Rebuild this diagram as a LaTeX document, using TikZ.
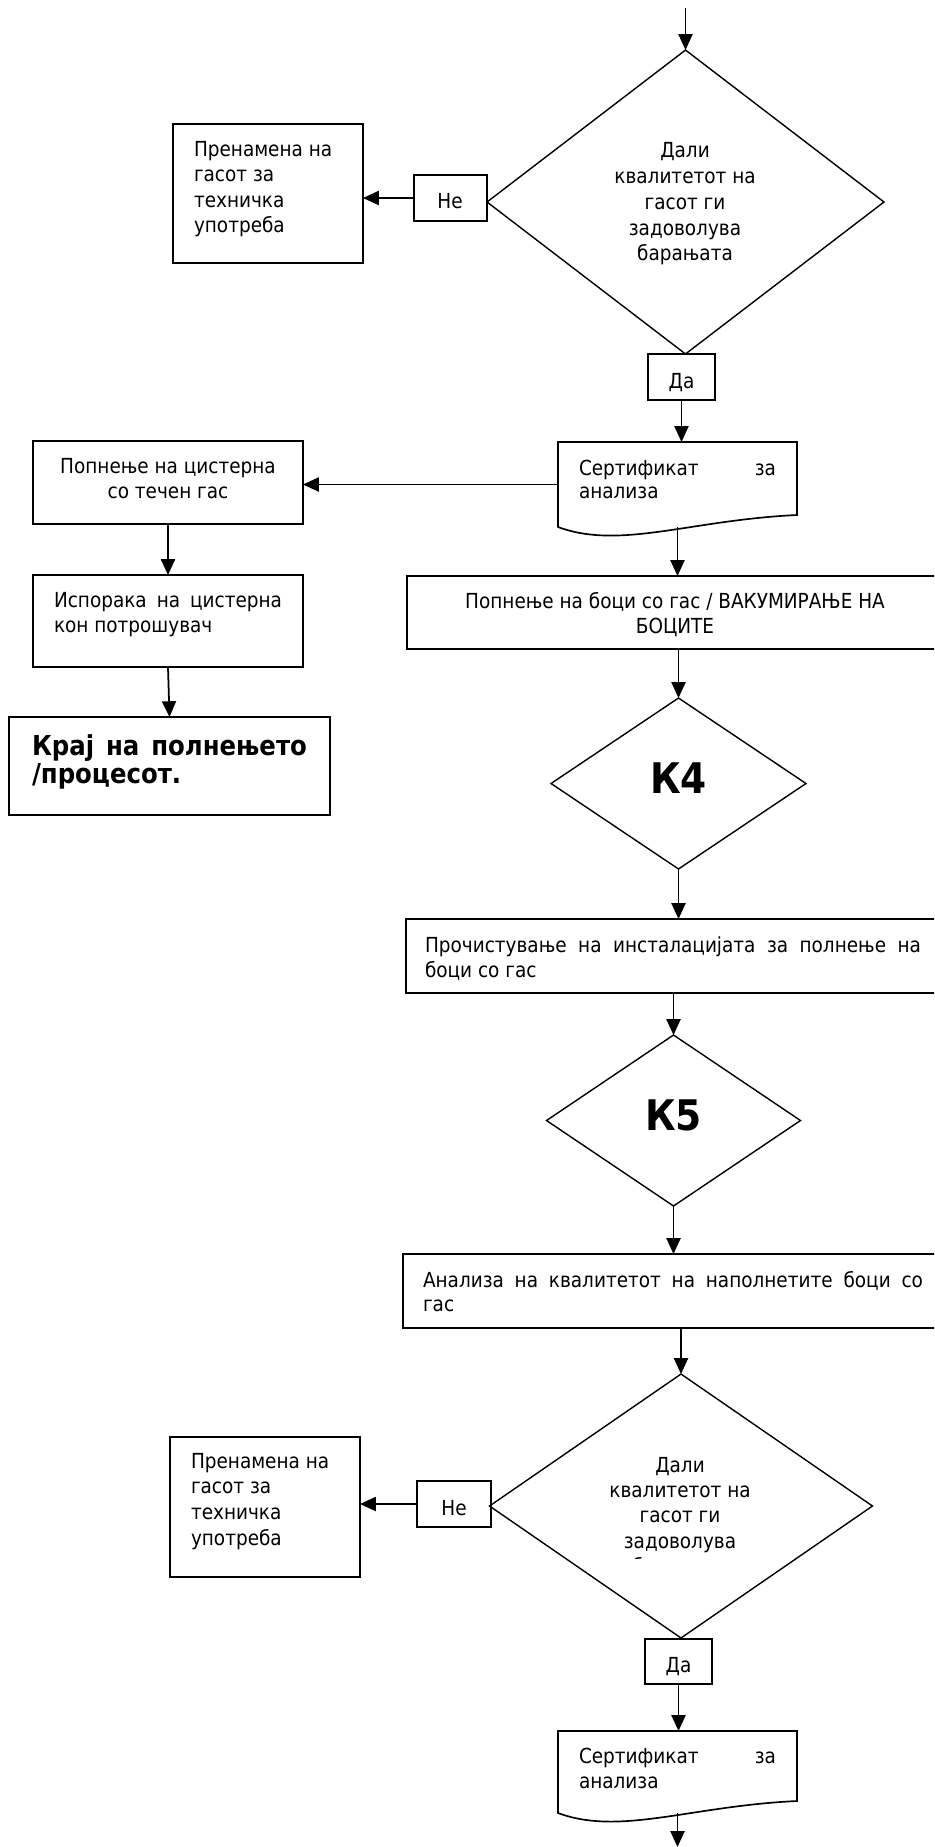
\documentclass[tikz,border=0pt]{standalone}
\usepackage{fontspec}
\setmainfont{DejaVu Sans}[FakeStretch=0.89]
\usetikzlibrary{arrows.meta,shapes.geometric,fit}
\tikzset{
 box/.style={draw, line width=1.15pt, inner sep=0, outer sep=0},
 dia/.style={draw, diamond, line width=0.8pt, inner sep=0, outer sep=0},
 docshape/.style={draw, line width=0.95pt},
 holder/.style={inner sep=0, outer sep=0},
 arr/.style={line width=1pt, -{Triangle[length=9pt,width=8pt]}},
 txt/.style={inner sep=0, outer sep=0, font=\fontsize{11.8pt}{14pt}\selectfont},
 btxt/.style={inner sep=0, outer sep=0, font=\bfseries\fontsize{15.6pt}{18pt}\selectfont},
 ktxt/.style={inner sep=0, outer sep=0, font=\bfseries\fontsize{24pt}{28pt}\selectfont},
}
\begin{document}
\begin{tikzpicture}[x=0.02cm,y=-0.02cm]
\useasboundingbox (0,0) rectangle (934,1847);
\clip (0,0) rectangle (934,1847);

% ---------- first decision ----------
\coordinate (start) at (685.5,8);
\node[dia, minimum width=7.94cm, minimum height=6.08cm] (d1) at (685.5,202) {};
\draw[arr] (start) -- (d1.north);
\node[txt, anchor=base] (d1t1) at (685,157) {Дали};
\node[txt, anchor=base] (d1t2) at (685,183) {квалитетот на};
\node[txt, anchor=base] (d1t3) at (685,209) {гасот ги};
\node[txt, anchor=base] (d1t4) at (685,235) {задоволува};
\node[txt, anchor=base] (d1t5) at (685,260) {барањата};

\node[box, minimum width=1.46cm, minimum height=0.92cm] (n1) at (450.5,198) {};
\node[txt, anchor=base] (n1t) at (450,208) {Не};
\node[box, minimum width=3.8cm, minimum height=2.78cm] (r1) at (268,193.5) {};
\node[txt, anchor=base west] (r1t1) at (194,156) {Пренамена на};
\node[txt, anchor=base west] (r1t2) at (194,181) {гасот за};
\node[txt, anchor=base west] (r1t3) at (194,207) {техничка};
\node[txt, anchor=base west] (r1t4) at (194,232) {употреба};
\draw[arr] (n1.west) -- (n1.west -| r1.east);

\node[box, minimum width=1.34cm, minimum height=0.92cm] (a1) at (681.5,377) {};
\node[txt, anchor=base] (a1t) at (681.5,388) {Да};

% ---------- certificate 1 ----------
\draw[docshape] (558,527) -- (558,442) -- (797,442) -- (797,515)
   .. controls (690,520) and (620,550) .. (558,527) -- cycle;
\node[holder, fit={(558,442) (797,527)}] (c1) {};
\node[txt, anchor=base west] (c1t1) at (579,475) {\makebox[3.94cm][s]{Сертификат за}};
\node[txt, anchor=base west] (c1t2) at (579,498) {анализа};
\draw[arr] (a1.south) -- (a1.south |- c1.north);

% ---------- left branch ----------
\node[box, minimum width=5.4cm, minimum height=1.66cm] (L2) at (168,482.5) {};
\node[txt, anchor=base] (L2t1) at (168,473) {Попнење на цистерна};
\node[txt, anchor=base] (L2t2) at (168,498) {со течен гас};
\draw[arr] (c1.west) -- (c1.west -| L2.east);

\node[box, minimum width=5.4cm, minimum height=1.84cm] (L3) at (168,621) {};
\node[txt, anchor=base west] (L3t1) at (54,607) {\makebox[4.56cm][s]{Испорака на цистерна}};
\node[txt, anchor=base west] (L3t2) at (54,632) {кон потрошувач};
\draw[arr] (L2.south) -- (L3.north);

\node[box, minimum width=6.42cm, minimum height=1.96cm] (L4) at (169.5,766) {};
\node[btxt, anchor=base west] (L4t1) at (32,755) {\makebox[5.5cm][s]{Крај на полнењето}};
\node[btxt, anchor=base west] (L4t2) at (32,783) {/процесот.};
\draw[arr] (L3.south) -- (L4.north);

% ---------- filling ----------
\node[box, minimum width=10.76cm, minimum height=1.46cm] (b1) at (676,612.5) {};
\node[txt, anchor=base] (b1t1) at (675,608) {Попнење на боци со гас / ВАКУМИРАЊЕ НА};
\node[txt, anchor=base] (b1t2) at (675,633) {БОЦИТЕ};
\draw[arr] (c1.south) -- (c1.south |- b1.north);

\node[dia, minimum width=5.1cm, minimum height=3.42cm] (k4) at (678.5,783.5) {};
\node[ktxt] (k4t) at (678.5,778) {К4};
\draw[arr] (k4.north |- b1.south) -- (k4.north);

\node[box, minimum width=10.76cm, minimum height=1.48cm] (b2) at (675,956) {};
\node[txt, anchor=base west] (b2t1) at (425,952) {\makebox[9.92cm][s]{Прочистување на инсталацијата за полнење на}};
\node[txt, anchor=base west] (b2t2) at (425,977) {боци со гас};
\draw[arr] (k4.south) -- (k4.south |- b2.north);

\node[dia, minimum width=5.08cm, minimum height=3.42cm] (k5) at (673.5,1120.5) {};
\node[ktxt] (k5t) at (673.5,1115) {К5};
\draw[arr] (k5.north |- b2.south) -- (k5.north);

\node[box, minimum width=10.82cm, minimum height=1.48cm] (b3) at (673.5,1291) {};
\node[txt, anchor=base west] (b3t1) at (423,1287) {\makebox[10cm][s]{Анализа на квалитетот на наполнетите боци со}};
\node[txt, anchor=base west] (b3t2) at (423,1311) {гас};
\draw[arr] (k5.south) -- (k5.south |- b3.north);

% ---------- second decision ----------
\node[dia, minimum width=7.66cm, minimum height=5.28cm] (d3) at (681,1506) {};
\draw[arr] (d3.north |- b3.south) -- (d3.north);
\begin{scope}
\clip (540,1440) rectangle (820,1558);
\node[txt, anchor=base] (d3t1) at (680,1472) {Дали};
\node[txt, anchor=base] (d3t2) at (680,1497) {квалитетот на};
\node[txt, anchor=base] (d3t3) at (680,1522) {гасот ги};
\node[txt, anchor=base] (d3t4) at (680,1548) {задоволува};
\node[txt, anchor=base] (d3t5) at (680,1573) {барањата};
\end{scope}

\node[box, minimum width=1.48cm, minimum height=0.92cm] (n3) at (454,1504) {};
\node[txt, anchor=base] (n3t) at (454,1515) {Не};
\node[box, minimum width=3.8cm, minimum height=2.8cm] (r3) at (265,1507) {};
\node[txt, anchor=base west] (r3t1) at (191,1468) {Пренамена на};
\node[txt, anchor=base west] (r3t2) at (191,1493) {гасот за};
\node[txt, anchor=base west] (r3t3) at (191,1519) {техничка};
\node[txt, anchor=base west] (r3t4) at (191,1545) {употреба};
\draw[arr] (n3.west) -- (n3.west -| r3.east);

\node[box, minimum width=1.34cm, minimum height=0.9cm] (a3) at (678.5,1661.5) {};
\node[txt, anchor=base] (a3t) at (678.5,1672) {Да};

% ---------- certificate 2 ----------
\draw[docshape] (558,1813) -- (558,1731) -- (797,1731) -- (797,1801)
   .. controls (690,1806) and (620,1836) .. (558,1813) -- cycle;
\node[holder, fit={(558,1731) (797,1813)}] (c3) {};
\node[txt, anchor=base west] (c3t1) at (579,1763) {\makebox[3.94cm][s]{Сертификат за}};
\node[txt, anchor=base west] (c3t2) at (579,1788) {анализа};
\draw[arr] (a3.south) -- (a3.south |- c3.north);
\coordinate (finish) at (677.5,1847);
\draw[arr] (c3.south) -- (finish);
\end{tikzpicture}
\end{document}
